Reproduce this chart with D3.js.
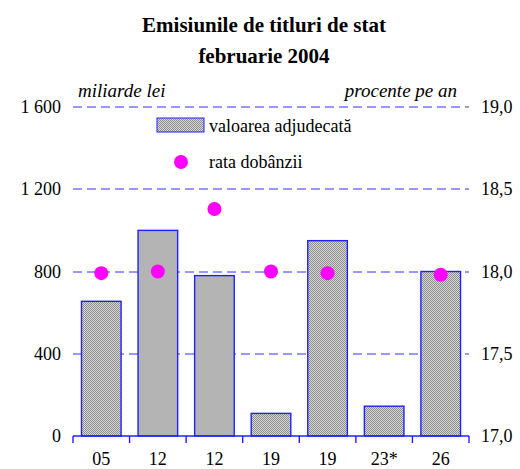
<!DOCTYPE html>
<html>
<head>
<meta charset="utf-8">
<script src="https://cdn.jsdelivr.net/npm/d3@7"></script>
<style>
  body { margin: 0; background: #fff; }
  svg text { font-family: "Liberation Serif", "DejaVu Serif", serif; fill: #000; }
</style>
</head>
<body>
<div class="content"></div>
<script>
//--> Data
const categories = ["05", "12", "12", "19", "19", "23*", "26"];
const amounts = [655, 1000, 780, 110, 950, 145, 800];
const rates = [17.99, 18.0, 18.38, 18.0, 17.99, null, 17.98];
const solidBars = [false, true, true, false, false, false, false];
const leftTicks = [0, 400, 800, 1200, 1600];
const rightTicks = [17.0, 17.5, 18.0, 18.5, 19.0];

//--> Constants
const width = 520;
const height = 469;
const margin = { top: 107, right: 51, bottom: 33, left: 73 };
const innerW = width - margin.left - margin.right;
const innerH = height - margin.top - margin.bottom;
const blue = "#2020ff";
const gridBlue = "#3030ff";
const fontSize = 18;

const svg = d3
  .select(".content")
  .append("svg")
  .attr("width", width)
  .attr("height", height);

//--> Checker pattern for the hatched bars
const defs = svg.append("defs");
const pat = defs
  .append("pattern")
  .attr("id", "checker")
  .attr("width", 2)
  .attr("height", 2)
  .attr("patternUnits", "userSpaceOnUse");
pat.append("rect").attr("width", 2).attr("height", 2).attr("fill", "#d8d8d8");
pat.append("rect").attr("width", 1).attr("height", 1).attr("fill", "#8c8c8c");
pat.append("rect").attr("x", 1).attr("y", 1).attr("width", 1).attr("height", 1).attr("fill", "#8c8c8c");

const graph = svg
  .append("g")
  .attr("transform", `translate(${margin.left}, ${margin.top})`);

//--> Scales
const x = d3
  .scaleBand()
  .domain(d3.range(categories.length))
  .range([0, innerW])
  .paddingInner(0.3)
  .paddingOuter(0.15);

const xEdges = d3
  .scaleLinear()
  .domain([0, categories.length])
  .range([0, innerW]);

const yLeft = d3.scaleLinear().domain([0, 1600]).range([innerH, 0]);
const yRight = d3.scaleLinear().domain([17, 19]).range([innerH, 0]);

//--> Title
svg
  .append("text")
  .attr("x", 264)
  .attr("y", 32)
  .attr("text-anchor", "middle")
  .attr("font-size", "21px")
  .attr("font-weight", "bold")
  .text("Emisiunile de titluri de stat");
svg
  .append("text")
  .attr("x", 264)
  .attr("y", 63)
  .attr("text-anchor", "middle")
  .attr("font-size", "21px")
  .attr("font-weight", "bold")
  .text("februarie 2004");

//--> Unit labels
svg
  .append("text")
  .attr("x", 78)
  .attr("y", 97)
  .attr("font-size", "19px")
  .attr("font-style", "italic")
  .text("miliarde lei");
svg
  .append("text")
  .attr("x", 457)
  .attr("y", 97)
  .attr("text-anchor", "end")
  .attr("font-size", "19px")
  .attr("font-style", "italic")
  .text("procente pe an");

//--> Gridlines
graph
  .selectAll(".grid")
  .data(leftTicks.filter(d => d > 0))
  .enter()
  .append("line")
  .attr("x1", 0)
  .attr("x2", innerW)
  .attr("y1", d => Math.round(yLeft(d)))
  .attr("y2", d => Math.round(yLeft(d)))
  .attr("stroke", gridBlue)
  .attr("stroke-width", 1)
  .attr("stroke-dasharray", "9,5");

//--> Bars
graph
  .selectAll(".bar")
  .data(amounts)
  .enter()
  .append("rect")
  .attr("x", (d, i) => x(i))
  .attr("y", d => yLeft(d))
  .attr("width", x.bandwidth())
  .attr("height", d => innerH - yLeft(d))
  .attr("fill", (d, i) => (solidBars[i] ? "#b4b4b4" : "url(#checker)"))
  .attr("stroke", blue)
  .attr("stroke-width", 1.4);

//--> Rate dots
graph
  .selectAll(".dot")
  .data(rates.map((r, i) => ({ r, i })).filter(d => d.r !== null))
  .enter()
  .append("circle")
  .attr("cx", d => x(d.i) + x.bandwidth() / 2)
  .attr("cy", d => yRight(d.r))
  .attr("r", 7)
  .attr("fill", "#ff00ff");

//--> Bottom axis
graph
  .append("line")
  .attr("x1", 0)
  .attr("x2", innerW)
  .attr("y1", innerH)
  .attr("y2", innerH)
  .attr("stroke", blue)
  .attr("stroke-width", 1.4);

graph
  .selectAll(".xtick")
  .data(d3.range(categories.length + 1))
  .enter()
  .append("line")
  .attr("x1", d => xEdges(d))
  .attr("x2", d => xEdges(d))
  .attr("y1", innerH)
  .attr("y2", innerH + 7)
  .attr("stroke", blue)
  .attr("stroke-width", 1.4);

graph
  .selectAll(".xlabel")
  .data(categories)
  .enter()
  .append("text")
  .attr("x", (d, i) => xEdges(i + 0.5))
  .attr("y", innerH + 29)
  .attr("text-anchor", "middle")
  .attr("font-size", `${fontSize}px`)
  .text(d => d);

//--> Left tick labels
const fmtLeft = d => d3.format(",")(d).replace(",", " ");
graph
  .selectAll(".ylabel")
  .data(leftTicks)
  .enter()
  .append("text")
  .attr("x", -12)
  .attr("y", d => yLeft(d) + 6)
  .attr("text-anchor", "end")
  .attr("font-size", `${fontSize}px`)
  .text(fmtLeft);

//--> Right tick labels
graph
  .selectAll(".rlabel")
  .data(rightTicks)
  .enter()
  .append("text")
  .attr("x", innerW + 12)
  .attr("y", d => yRight(d) + 6)
  .attr("font-size", `${fontSize}px`)
  .text(d => d3.format(".1f")(d).replace(".", ","));

//--> Legend
const legend = svg.append("g");
legend
  .append("rect")
  .attr("x", 157)
  .attr("y", 118)
  .attr("width", 47)
  .attr("height", 14)
  .attr("fill", "url(#checker)")
  .attr("stroke", blue)
  .attr("stroke-width", 1);
legend
  .append("text")
  .attr("x", 209)
  .attr("y", 132)
  .attr("font-size", `${fontSize}px`)
  .text("valoarea adjudecată");
legend
  .append("circle")
  .attr("cx", 181)
  .attr("cy", 162)
  .attr("r", 7)
  .attr("fill", "#ff00ff");
legend
  .append("text")
  .attr("x", 209)
  .attr("y", 168)
  .attr("font-size", `${fontSize}px`)
  .text("rata dobânzii");
</script>
</body>
</html>
